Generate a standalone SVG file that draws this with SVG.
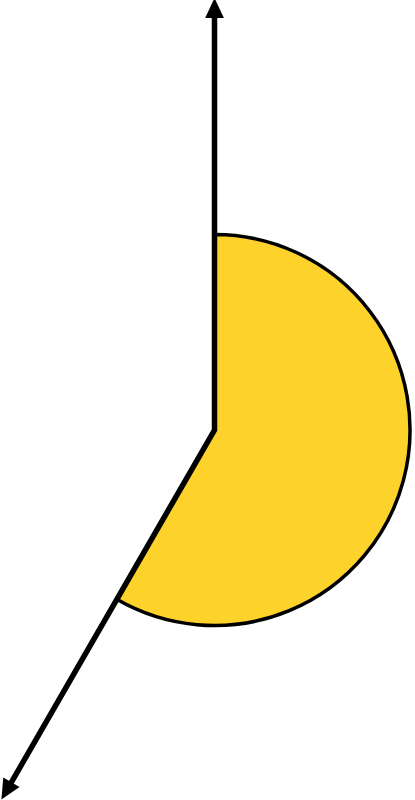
<svg xmlns="http://www.w3.org/2000/svg" width="415" height="800" viewBox="0 0 415 800">
  <style>
    .sector { fill: #FDD22A; stroke: #000; stroke-width: 3.5; stroke-linejoin: miter; }
    .ray { fill: none; stroke: #000; stroke-width: 5.5; stroke-linejoin: miter; }
  </style>
  <defs>
    <marker id="arrow" markerUnits="userSpaceOnUse" markerWidth="20" markerHeight="20" viewBox="0 -8 16 16" refX="4" refY="0" orient="auto-start-reverse" overflow="visible">
      <path d="M0,-7.5 L16,0 L0,7.5 Z" fill="#000"/>
    </marker>
  </defs>
  <rect width="415" height="800" fill="#fff"/>
  <g id="angle-sector">
    <path class="sector" d="M214.5,430 L214.5,234.5 A195.5,195.5 0 1 1 116.75,599.3 Z"/>
  </g>
  <g id="connectors">
    <path class="ray" d="M214.5,13 L214.5,430 L8.9,786.6" marker-start="url(#arrow)" marker-end="url(#arrow)"/>
  </g>
</svg>
